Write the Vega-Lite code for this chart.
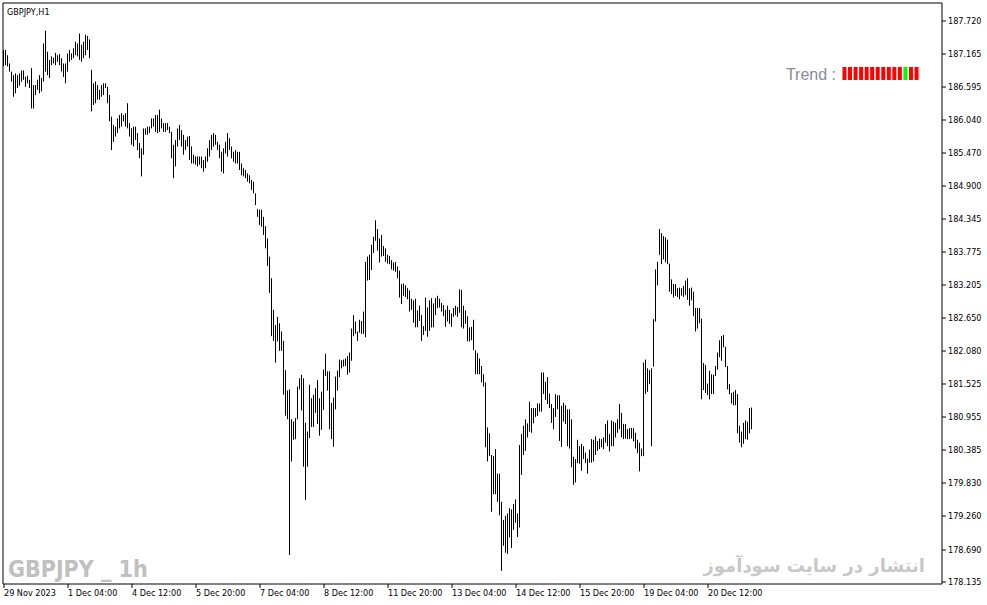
{
"$schema":"https://vega.github.io/schema/vega-lite/v6.json",
"width":939,"height":581,
"autosize":{"type":"none"},
"padding":{"left":2.5,"top":2.5,"right":45.5,"bottom":21.5},
"background":"white",
"config":{"view":{"stroke":"black","strokeWidth":1},"font":"DejaVu Sans Condensed",
"axis":{"labelOverlap":false,"labelFlush":false,"labelBound":false,"grid":false,"domain":false,"title":null}},
"datasets":{
"prices":[
{"bar":0,"high":187.22,"low":186.94},{"bar":1,"high":187.22,"low":186.96},{"bar":2,"high":187.13,"low":186.94},{"bar":3,"high":186.99,"low":186.85},{"bar":4,"high":186.85,"low":186.68},{"bar":5,"high":186.79,"low":186.42},{"bar":6,"high":186.82,"low":186.48},{"bar":7,"high":186.79,"low":186.57},{"bar":8,"high":186.82,"low":186.61},{"bar":9,"high":186.87,"low":186.68},
{"bar":10,"high":186.87,"low":186.71},{"bar":11,"high":186.76,"low":186.59},{"bar":12,"high":186.78,"low":186.65},{"bar":13,"high":186.71,"low":186.57},{"bar":14,"high":186.91,"low":186.22},{"bar":15,"high":186.62,"low":186.22},{"bar":16,"high":186.62,"low":186.45},{"bar":17,"high":186.71,"low":186.54},{"bar":18,"high":186.79,"low":186.48},{"bar":19,"high":186.74,"low":186.51},
{"bar":20,"high":187.33,"low":186.68},{"bar":21,"high":187.55,"low":186.85},{"bar":22,"high":187.19,"low":186.79},{"bar":23,"high":187.05,"low":186.74},{"bar":24,"high":187.11,"low":186.96},{"bar":25,"high":187.09,"low":186.99},{"bar":26,"high":187.17,"low":186.96},{"bar":27,"high":187.13,"low":187.02},{"bar":28,"high":187.15,"low":186.96},{"bar":29,"high":187.08,"low":186.85},
{"bar":30,"high":186.99,"low":186.76},{"bar":31,"high":186.99,"low":186.65},{"bar":32,"high":187.16,"low":186.85},{"bar":33,"high":187.22,"low":187.02},{"bar":34,"high":187.16,"low":187.05},{"bar":35,"high":187.25,"low":187.08},{"bar":36,"high":187.36,"low":187.13},{"bar":37,"high":187.33,"low":187.11},{"bar":38,"high":187.50,"low":187.05},{"bar":39,"high":187.31,"low":187.02},
{"bar":40,"high":187.36,"low":187.08},{"bar":41,"high":187.48,"low":187.13},{"bar":42,"high":187.46,"low":187.22},{"bar":43,"high":187.40,"low":187.08},{"bar":44,"high":186.88,"low":186.17},{"bar":45,"high":186.65,"low":186.28},{"bar":46,"high":186.68,"low":186.31},{"bar":47,"high":186.62,"low":186.37},{"bar":48,"high":186.54,"low":186.37},{"bar":49,"high":186.62,"low":186.42},
{"bar":50,"high":186.65,"low":186.45},{"bar":51,"high":186.65,"low":186.57},{"bar":52,"high":186.59,"low":186.31},{"bar":53,"high":186.45,"low":186.00},{"bar":54,"high":186.08,"low":185.51},{"bar":55,"high":185.94,"low":185.65},{"bar":56,"high":185.91,"low":185.74},{"bar":57,"high":186.05,"low":185.80},{"bar":58,"high":186.11,"low":185.88},{"bar":59,"high":186.14,"low":185.91},
{"bar":60,"high":186.11,"low":186.00},{"bar":61,"high":186.14,"low":185.91},{"bar":62,"high":186.31,"low":185.88},{"bar":63,"high":185.97,"low":185.74},{"bar":64,"high":185.88,"low":185.60},{"bar":65,"high":185.91,"low":185.57},{"bar":66,"high":185.91,"low":185.68},{"bar":67,"high":185.80,"low":185.51},{"bar":68,"high":185.63,"low":185.37},{"bar":69,"high":185.54,"low":185.06},
{"bar":70,"high":185.88,"low":185.43},{"bar":71,"high":185.88,"low":185.77},{"bar":72,"high":185.91,"low":185.77},{"bar":73,"high":185.91,"low":185.80},{"bar":74,"high":186.05,"low":185.88},{"bar":75,"high":186.05,"low":185.91},{"bar":76,"high":186.11,"low":185.82},{"bar":77,"high":186.11,"low":185.80},{"bar":78,"high":186.20,"low":185.82},{"bar":79,"high":186.05,"low":185.88},
{"bar":80,"high":185.97,"low":185.82},{"bar":81,"high":185.97,"low":185.82},{"bar":82,"high":185.97,"low":185.85},{"bar":83,"high":185.91,"low":185.80},{"bar":84,"high":185.82,"low":185.37},{"bar":85,"high":185.60,"low":185.03},{"bar":86,"high":185.68,"low":185.23},{"bar":87,"high":185.88,"low":185.57},{"bar":88,"high":185.94,"low":185.68},{"bar":89,"high":185.85,"low":185.57},
{"bar":90,"high":185.77,"low":185.43},{"bar":91,"high":185.68,"low":185.51},{"bar":92,"high":185.74,"low":185.57},{"bar":93,"high":185.75,"low":185.34},{"bar":94,"high":185.57,"low":185.28},{"bar":95,"high":185.43,"low":185.28},{"bar":96,"high":185.40,"low":185.26},{"bar":97,"high":185.40,"low":185.23},{"bar":98,"high":185.40,"low":185.26},{"bar":99,"high":185.40,"low":185.20},
{"bar":100,"high":185.34,"low":185.14},{"bar":101,"high":185.40,"low":185.20},{"bar":102,"high":185.54,"low":185.31},{"bar":103,"high":185.68,"low":185.40},{"bar":104,"high":185.77,"low":185.51},{"bar":105,"high":185.80,"low":185.57},{"bar":106,"high":185.77,"low":185.60},{"bar":107,"high":185.65,"low":185.51},{"bar":108,"high":185.60,"low":185.37},{"bar":109,"high":185.48,"low":185.14},
{"bar":110,"high":185.54,"low":185.11},{"bar":111,"high":185.65,"low":185.45},{"bar":112,"high":185.80,"low":185.40},{"bar":113,"high":185.71,"low":185.51},{"bar":114,"high":185.57,"low":185.37},{"bar":115,"high":185.48,"low":185.31},{"bar":116,"high":185.51,"low":185.28},{"bar":117,"high":185.48,"low":185.28},{"bar":118,"high":185.48,"low":185.17},{"bar":119,"high":185.28,"low":185.08},
{"bar":120,"high":185.20,"low":185.06},{"bar":121,"high":185.17,"low":185.03},{"bar":122,"high":185.11,"low":184.97},{"bar":123,"high":185.08,"low":184.94},{"bar":124,"high":185.00,"low":184.83},{"bar":125,"high":184.97,"low":184.77},{"bar":126,"high":184.77,"low":184.57},{"bar":127,"high":184.50,"low":184.37},{"bar":128,"high":184.49,"low":184.23},{"bar":129,"high":184.49,"low":184.20},
{"bar":130,"high":184.37,"low":184.06},{"bar":131,"high":184.21,"low":183.83},{"bar":132,"high":184.00,"low":183.53},{"bar":133,"high":183.69,"low":183.07},{"bar":134,"high":183.32,"low":182.33},{"bar":135,"high":182.78,"low":182.25},{"bar":136,"high":182.52,"low":181.88},{"bar":137,"high":182.66,"low":182.24},{"bar":138,"high":182.55,"low":182.08},{"bar":139,"high":182.41,"low":182.08},
{"bar":140,"high":182.25,"low":181.33},{"bar":141,"high":181.75,"low":180.97},{"bar":142,"high":181.40,"low":180.91},{"bar":143,"high":181.42,"low":178.59},{"bar":144,"high":180.91,"low":180.19},{"bar":145,"high":180.87,"low":180.56},{"bar":146,"high":180.93,"low":180.57},{"bar":147,"high":181.47,"low":180.91},{"bar":148,"high":181.61,"low":181.42},{"bar":149,"high":181.67,"low":181.06},
{"bar":150,"high":181.61,"low":180.10},{"bar":151,"high":180.85,"low":179.53},{"bar":152,"high":180.70,"low":180.10},{"bar":153,"high":181.50,"low":180.59},{"bar":154,"high":181.27,"low":180.78},{"bar":155,"high":181.33,"low":180.78},{"bar":156,"high":181.44,"low":181.02},{"bar":157,"high":181.58,"low":180.83},{"bar":158,"high":181.27,"low":180.63},{"bar":159,"high":181.38,"low":180.73},
{"bar":160,"high":181.76,"low":181.07},{"bar":161,"high":182.03,"low":181.65},{"bar":162,"high":181.73,"low":181.40},{"bar":163,"high":181.73,"low":180.74},{"bar":164,"high":181.19,"low":180.57},{"bar":165,"high":181.28,"low":180.44},{"bar":166,"high":181.64,"low":181.08},{"bar":167,"high":181.74,"low":181.40},{"bar":168,"high":181.93,"low":181.63},{"bar":169,"high":181.92,"low":181.78},
{"bar":170,"high":181.93,"low":181.81},{"bar":171,"high":181.95,"low":181.82},{"bar":172,"high":181.99,"low":181.67},{"bar":173,"high":182.05,"low":181.71},{"bar":174,"high":182.46,"low":181.91},{"bar":175,"high":182.69,"low":182.33},{"bar":176,"high":182.58,"low":182.37},{"bar":177,"high":182.41,"low":182.25},{"bar":178,"high":182.61,"low":182.39},{"bar":179,"high":182.59,"low":182.37},
{"bar":180,"high":182.75,"low":182.37},{"bar":181,"high":183.60,"low":182.31},{"bar":182,"high":183.69,"low":183.28},{"bar":183,"high":183.72,"low":183.29},{"bar":184,"high":183.89,"low":183.46},{"bar":185,"high":184.03,"low":183.75},{"bar":186,"high":184.31,"low":183.96},{"bar":187,"high":184.16,"low":183.79},{"bar":188,"high":184.00,"low":183.59},{"bar":189,"high":184.06,"low":183.69},
{"bar":190,"high":183.87,"low":183.70},{"bar":191,"high":183.83,"low":183.60},{"bar":192,"high":183.72,"low":183.57},{"bar":193,"high":183.70,"low":183.56},{"bar":194,"high":183.63,"low":183.47},{"bar":195,"high":183.59,"low":183.45},{"bar":196,"high":183.60,"low":183.43},{"bar":197,"high":183.52,"low":183.32},{"bar":198,"high":183.45,"low":182.99},{"bar":199,"high":183.22,"low":182.88},
{"bar":200,"high":183.23,"low":183.02},{"bar":201,"high":183.20,"low":183.00},{"bar":202,"high":183.15,"low":182.96},{"bar":203,"high":183.11,"low":182.75},{"bar":204,"high":182.97,"low":182.78},{"bar":205,"high":182.94,"low":182.56},{"bar":206,"high":182.97,"low":182.48},{"bar":207,"high":182.77,"low":182.48},{"bar":208,"high":182.85,"low":182.59},{"bar":209,"high":182.69,"low":182.25},
{"bar":210,"high":182.50,"low":182.35},{"bar":211,"high":182.99,"low":182.42},{"bar":212,"high":182.82,"low":182.32},{"bar":213,"high":182.94,"low":182.42},{"bar":214,"high":182.98,"low":182.48},{"bar":215,"high":182.89,"low":182.48},{"bar":216,"high":182.98,"low":182.69},{"bar":217,"high":183.02,"low":182.81},{"bar":218,"high":182.97,"low":182.82},{"bar":219,"high":182.90,"low":182.75},
{"bar":220,"high":182.86,"low":182.67},{"bar":221,"high":182.78,"low":182.49},{"bar":222,"high":182.85,"low":182.58},{"bar":223,"high":182.78,"low":182.54},{"bar":224,"high":182.72,"low":182.49},{"bar":225,"high":182.81,"low":182.66},{"bar":226,"high":182.85,"low":182.69},{"bar":227,"high":182.83,"low":182.66},{"bar":228,"high":183.13,"low":182.73},{"bar":229,"high":183.12,"low":182.48},
{"bar":230,"high":182.85,"low":182.46},{"bar":231,"high":182.77,"low":182.54},{"bar":232,"high":182.67,"low":182.24},{"bar":233,"high":182.48,"low":182.24},{"bar":234,"high":182.49,"low":182.26},{"bar":235,"high":182.61,"low":182.09},{"bar":236,"high":182.09,"low":181.68},{"bar":237,"high":182.04,"low":181.68},{"bar":238,"high":181.95,"low":181.68},{"bar":239,"high":181.82,"low":181.54},
{"bar":240,"high":181.68,"low":181.47},{"bar":241,"high":181.54,"low":180.43},{"bar":242,"high":180.77,"low":180.19},{"bar":243,"high":180.67,"low":180.28},{"bar":244,"high":180.30,"low":179.33},{"bar":245,"high":180.28,"low":179.63},{"bar":246,"high":180.40,"low":179.63},{"bar":247,"high":179.98,"low":179.50},{"bar":248,"high":179.98,"low":179.27},{"bar":249,"high":179.50,"low":178.32},
{"bar":250,"high":179.19,"low":178.75},{"bar":251,"high":179.26,"low":178.63},{"bar":252,"high":179.30,"low":178.61},{"bar":253,"high":179.39,"low":178.89},{"bar":254,"high":179.37,"low":178.71},{"bar":255,"high":179.46,"low":179.02},{"bar":256,"high":179.54,"low":179.14},{"bar":257,"high":179.30,"low":178.90},{"bar":258,"high":180.47,"low":179.06},{"bar":259,"high":180.66,"low":179.96},
{"bar":260,"high":180.80,"low":180.30},{"bar":261,"high":180.91,"low":180.37},{"bar":262,"high":180.84,"low":180.60},{"bar":263,"high":181.21,"low":180.70},{"bar":264,"high":181.10,"low":180.68},{"bar":265,"high":181.10,"low":180.84},{"bar":266,"high":181.10,"low":180.95},{"bar":267,"high":181.18,"low":180.97},{"bar":268,"high":181.18,"low":181.04},{"bar":269,"high":181.71,"low":181.04},
{"bar":270,"high":181.71,"low":181.34},{"bar":271,"high":181.55,"low":181.24},{"bar":272,"high":181.63,"low":181.17},{"bar":273,"high":181.35,"low":181.10},{"bar":274,"high":181.17,"low":180.85},{"bar":275,"high":181.10,"low":180.74},{"bar":276,"high":181.34,"low":180.95},{"bar":277,"high":181.32,"low":181.08},{"bar":278,"high":181.32,"low":180.54},{"bar":279,"high":181.14,"low":180.44},
{"bar":280,"high":181.19,"low":180.87},{"bar":281,"high":181.15,"low":180.83},{"bar":282,"high":181.08,"low":180.45},{"bar":283,"high":181.08,"low":180.41},{"bar":284,"high":180.91,"low":180.09},{"bar":285,"high":180.27,"low":179.79},{"bar":286,"high":180.23,"low":179.83},{"bar":287,"high":180.56,"low":180.16},{"bar":288,"high":180.45,"low":180.15},{"bar":289,"high":180.49,"low":180.03},
{"bar":290,"high":180.45,"low":180.23},{"bar":291,"high":180.34,"low":180.16},{"bar":292,"high":180.24,"low":179.98},{"bar":293,"high":180.39,"low":180.17},{"bar":294,"high":180.57,"low":180.17},{"bar":295,"high":180.56,"low":180.19},{"bar":296,"high":180.62,"low":180.30},{"bar":297,"high":180.54,"low":180.37},{"bar":298,"high":180.58,"low":180.40},{"bar":299,"high":180.57,"low":180.43},
{"bar":300,"high":180.60,"low":180.40},{"bar":301,"high":180.83,"low":180.51},{"bar":302,"high":180.89,"low":180.45},{"bar":303,"high":180.66,"low":180.36},{"bar":304,"high":180.89,"low":180.45},{"bar":305,"high":180.87,"low":180.45},{"bar":306,"high":180.85,"low":180.60},{"bar":307,"high":180.91,"low":180.68},{"bar":308,"high":181.17,"low":180.74},{"bar":309,"high":181.02,"low":180.60},
{"bar":310,"high":180.83,"low":180.57},{"bar":311,"high":180.83,"low":180.58},{"bar":312,"high":180.74,"low":180.57},{"bar":313,"high":180.76,"low":180.57},{"bar":314,"high":180.76,"low":180.58},{"bar":315,"high":180.76,"low":180.53},{"bar":316,"high":180.68,"low":180.41},{"bar":317,"high":180.56,"low":180.33},{"bar":318,"high":180.51,"low":180.02},{"bar":319,"high":180.41,"low":180.28},
{"bar":320,"high":181.88,"low":180.28},{"bar":321,"high":181.93,"low":181.34},{"bar":322,"high":181.78,"low":181.38},{"bar":323,"high":181.75,"low":181.51},{"bar":324,"high":181.78,"low":180.45},{"bar":325,"high":182.62,"low":181.81},{"bar":326,"high":183.47,"low":182.58},{"bar":327,"high":183.60,"low":183.20},{"bar":328,"high":184.16,"low":183.72},{"bar":329,"high":184.09,"low":183.56},
{"bar":330,"high":184.04,"low":183.64},{"bar":331,"high":184.02,"low":183.59},{"bar":332,"high":183.98,"low":183.56},{"bar":333,"high":183.57,"low":183.09},{"bar":334,"high":183.30,"low":183.05},{"bar":335,"high":183.22,"low":182.99},{"bar":336,"high":183.22,"low":183.02},{"bar":337,"high":183.15,"low":183.00},{"bar":338,"high":183.16,"low":182.96},{"bar":339,"high":183.15,"low":183.02},
{"bar":340,"high":183.19,"low":183.00},{"bar":341,"high":183.28,"low":183.03},{"bar":342,"high":183.32,"low":182.95},{"bar":343,"high":183.15,"low":182.85},{"bar":344,"high":183.16,"low":182.94},{"bar":345,"high":183.09,"low":182.67},{"bar":346,"high":182.81,"low":182.41},{"bar":347,"high":182.81,"low":182.46},{"bar":348,"high":182.81,"low":182.55},{"bar":349,"high":182.63,"low":181.25},
{"bar":350,"high":181.87,"low":181.41},{"bar":351,"high":181.84,"low":181.36},{"bar":352,"high":181.52,"low":181.32},{"bar":353,"high":181.74,"low":181.25},{"bar":354,"high":181.68,"low":181.34},{"bar":355,"high":181.67,"low":181.34},{"bar":356,"high":181.82,"low":181.65},{"bar":357,"high":182.05,"low":181.76},{"bar":358,"high":182.26,"low":181.97},{"bar":359,"high":182.33,"low":181.91},
{"bar":360,"high":182.35,"low":182.14},{"bar":361,"high":182.15,"low":181.80},{"bar":362,"high":181.82,"low":181.42},{"bar":363,"high":181.51,"low":181.34},{"bar":364,"high":181.36,"low":181.18},{"bar":365,"high":181.38,"low":181.15},{"bar":366,"high":181.41,"low":181.15},{"bar":367,"high":181.34,"low":180.67},{"bar":368,"high":180.80,"low":180.51},{"bar":369,"high":180.70,"low":180.43},
{"bar":370,"high":180.85,"low":180.49},{"bar":371,"high":180.89,"low":180.57},{"bar":372,"high":180.87,"low":180.56},{"bar":373,"high":181.10,"low":180.67},{"bar":374,"high":181.11,"low":180.74}
],
"trend":[
{"k":0,"state":"down"},{"k":1,"state":"down"},{"k":2,"state":"down"},{"k":3,"state":"down"},{"k":4,"state":"down"},{"k":5,"state":"down"},{"k":6,"state":"down"},{"k":7,"state":"down"},{"k":8,"state":"down"},{"k":9,"state":"down"},{"k":10,"state":"down"},{"k":11,"state":"up"},{"k":12,"state":"down"},{"k":13,"state":"down"}
]
},
"layer":[
{
"layer":[
{
"data":{"name":"prices"},
"mark":{"type":"rule","color":"black","strokeWidth":1},
"encoding":{
"x":{"field":"bar","type":"quantitative","scale":{"domain":[-0.5,469],"nice":false,"zero":false},
"axis":{"values":[0,32,64,96,128,160,192,224,256,288,320,352],"tickCount":30,"labelExpr":"['29 Nov 2023','1 Dec 04:00','4 Dec 12:00','5 Dec 20:00','7 Dec 04:00','8 Dec 12:00','11 Dec 20:00','13 Dec 04:00','14 Dec 12:00','15 Dec 20:00','19 Dec 04:00','20 Dec 12:00'][round(datum.value/32)]","labelAlign":"left","labelOverlap":false,"labelFlush":false,"labelBound":false,"title":null,"grid":false,"domain":false,"ticks":true,"tickSize":4,"tickColor":"black","labelColor":"black","labelFont":"DejaVu Sans Condensed","labelFontSize":9,"labelPadding":1}},
"y":{"field":"high","type":"quantitative","scale":{"domain":[178.104,188.031],"nice":false,"zero":false},
"axis":{"orient":"right","values":[178.135,178.69,179.26,179.83,180.385,180.955,181.525,182.08,182.65,183.205,183.775,184.345,184.9,185.47,186.04,186.595,187.165,187.72],"tickCount":40,"format":".3f","title":null,"grid":false,"domain":false,"ticks":true,"tickSize":4,"tickColor":"black","labelColor":"black","labelFont":"DejaVu Sans Condensed","labelFontSize":9,"labelPadding":2,"labelOverlap":false,"labelFlush":false,"labelBound":false}},
"y2":{"field":"low"}
}
},
{
"data":{"values":[{}]},
"mark":{"type":"text","text":"GBPJPY,H1","align":"left","baseline":"alphabetic","font":"DejaVu Sans Condensed","fontSize":9,"color":"black"},
"encoding":{"x":{"datum":1.75},"y":{"datum":187.817}}
},
{
"data":{"values":[{}]},
"mark":{"type":"text","text":"Trend :","align":"right","baseline":"alphabetic","font":"Liberation Sans","fontSize":16,"color":"#8a8a9a"},
"encoding":{"x":{"datum":416.25},"y":{"datum":186.715}}
},
{
"data":{"values":[{}]},
"mark":{"type":"text","text":"GBPJPY _ 1h","align":"left","baseline":"alphabetic","font":"DejaVu Sans Condensed","fontWeight":"bold","fontSize":23,"color":"#c0c0c0"},
"encoding":{"x":{"datum":2.25},"y":{"datum":178.215}}
},
{
"data":{"values":[{}]},
"mark":{"type":"text","text":"انتشار در سایت سودآموز","align":"right","baseline":"alphabetic","font":"DejaVu Sans","fontWeight":"bold","fontSize":18,"color":"#c8c8c8"},
"encoding":{"x":{"datum":460.75},"y":{"datum":178.30}}
}
]
},
{
"data":{"name":"trend"},
"mark":{"type":"bar","size":4},
"encoding":{
"x":{"field":"k","type":"quantitative","scale":{"domain":[-151.07,16.61],"nice":false,"zero":false},"axis":null},
"y":{"datum":186.929},
"y2":{"datum":186.707},
"color":{"field":"state","type":"nominal","scale":{"domain":["down","up"],"range":["#ff0000","#00ff00"]},"legend":null}
}
}
],
"resolve":{"scale":{"x":"independent"},"axis":{"x":"independent"}}
}
